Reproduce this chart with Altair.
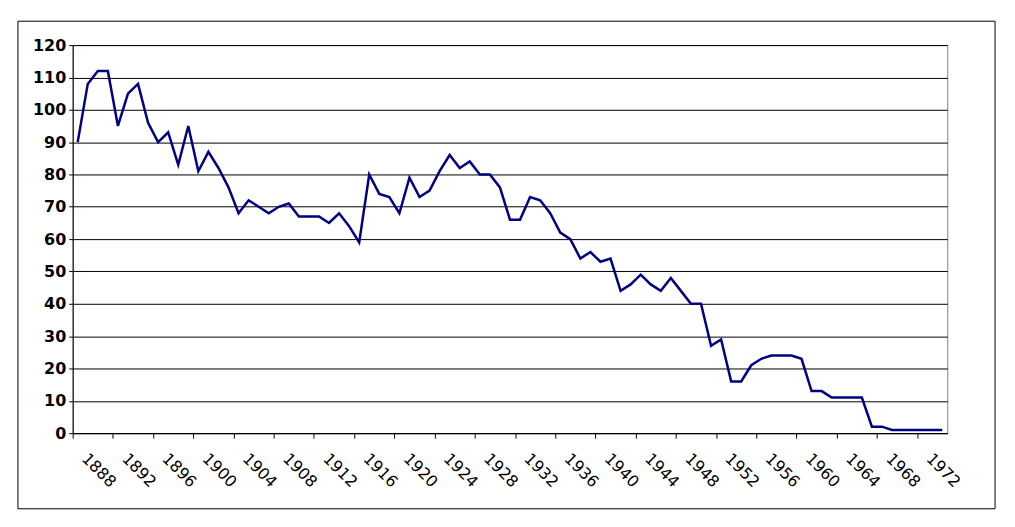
import altair as alt
import pandas as pd

years = list(range(1888, 1975))
values = [
    90, 108, 112, 112, 95, 105, 108, 96, 90, 93,
    83, 95, 81, 87, 82, 76, 68, 72, 70, 68,
    70, 71, 67, 67, 67, 65, 68, 64, 59, 80,
    74, 73, 68, 79, 73, 75, 81, 86, 82, 84,
    80, 80, 76, 66, 66, 73, 72, 68, 62, 60,
    54, 56, 53, 54, 44, 46, 49, 46, 44, 48,
    44, 40, 40, 27, 29, 16, 16, 21, 23, 24,
    24, 24, 23, 13, 13, 11, 11, 11, 11, 2,
    2, 1, 1, 1, 1, 1, 1,
]
tick_labels = [1888, 1892, 1896, 1900, 1904, 1908, 1912, 1916, 1920, 1924, 1928,
               1932, 1936, 1940, 1944, 1948, 1952, 1956, 1960, 1964, 1968, 1972]
y_ticks = [0, 10, 20, 30, 40, 50, 60, 70, 80, 90, 100, 110, 120]

df = pd.DataFrame({"year": years, "value": values})
boundaries = [t - 0.5 for t in tick_labels]

W, H = 879, 390

x_enc = alt.X(
    "year:Q",
    scale=alt.Scale(domain=[years[0] - 0.5, years[-1] + 0.5], nice=False, zero=False),
    axis=alt.Axis(
        values=boundaries,
        labelExpr="'' + (datum.value + 0.5)",
        grid=False,
        title=None,
        labelAngle=45,
        labelAlign="left",
        labelBaseline="top",
        labelFont="DejaVu Sans",
        labelFontSize=16,
        labelColor="black",
        labelOffset=17,
        labelPadding=12,
        labelOverlap=False,
        labelBound=False,
        labelFlush=False,
        tickSize=5,
        tickColor="black",
        domainColor="black",
    ),
)
y_enc = alt.Y(
    "value:Q",
    scale=alt.Scale(domain=[0, 120], nice=False),
    axis=alt.Axis(
        values=y_ticks,
        title=None,
        grid=True,
        gridColor="black",
        gridWidth=1,
        gridOpacity=1,
        labelFont="DejaVu Sans",
        labelFontWeight="bold",
        labelFontSize=16,
        labelColor="black",
        labelPadding=3,
        tickSize=4,
        tickColor="black",
        domainColor="black",
    ),
)

line = alt.Chart(df).mark_line(color="#000080", strokeWidth=2.5).encode(x=x_enc, y=y_enc)

frame = alt.Chart(alt.Data(values=[{}])).mark_rect(
    fill="transparent", stroke="black", strokeWidth=1
).encode(
    x=alt.value(-55), x2=alt.value(927), y=alt.value(-24), y2=alt.value(466)
)

chart = alt.layer(line, frame).properties(
    width=W,
    height=H,
    padding={"left": 65, "top": 36, "right": 60, "bottom": 85},
    autosize=alt.AutoSizeParams(type="none"),
    background="white",
).configure_view(stroke="#808080", strokeWidth=1)

chart.save("out.html", embed_options={"renderer": "svg", "actions": False})
